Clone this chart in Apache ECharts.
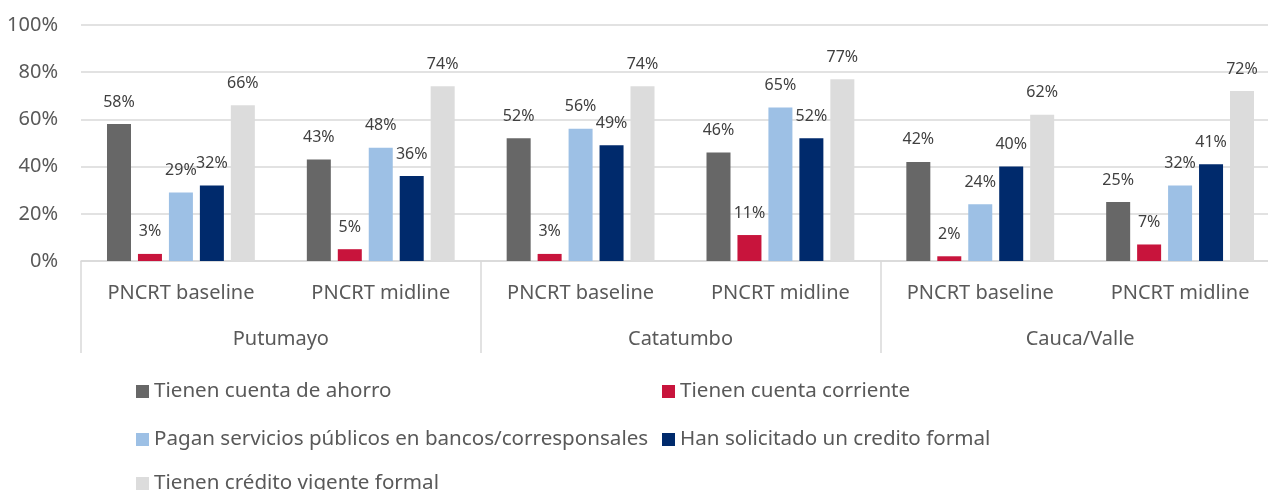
<!DOCTYPE html>
<html>
<head>
<meta charset="utf-8">
<script src="https://cdn.jsdelivr.net/npm/echarts@6/dist/echarts.min.js"></script>
<style>
  html, body { margin: 0; padding: 0; background: #ffffff; }
  #chart { width: 1268px; height: 490px; }
</style>
</head>
<body>
<div id="chart"></div>
<script>
// Survey rounds (inner axis) and regions (outer axis)
const rounds = ['PNCRT baseline', 'PNCRT midline', 'PNCRT baseline', 'PNCRT midline', 'PNCRT baseline', 'PNCRT midline'];
const regions = ['Putumayo', 'Catatumbo', 'Cauca/Valle'];

// Share of households (%) per indicator, one value per round/region
const cuentaAhorro    = [58, 43, 52, 46, 42, 25];
const cuentaCorriente = [3, 5, 3, 11, 2, 7];
const paganServicios  = [29, 48, 56, 65, 24, 32];
const solicitadoCred  = [32, 36, 49, 52, 40, 41];
const creditoVigente  = [66, 74, 74, 77, 62, 72];

const seriesNames = [
  'Tienen cuenta de ahorro',
  'Tienen cuenta corriente',
  'Pagan servicios públicos en bancos/corresponsales',
  'Han solicitado un credito formal',
  'Tienen crédito vigente formal'
];
const seriesValues = [cuentaAhorro, cuentaCorriente, paganServicios, solicitadoCred, creditoVigente];
const colors = ['#676767', '#C8143C', '#9DC0E5', '#002A6C', '#DCDCDC'];

const yTicks = { min: 0, max: 100, interval: 20 };

const FONT = 'Noto Sans';
const AXIS_FONT = 20;
const chart = echarts.init(document.getElementById('chart'), null, { renderer: 'canvas' });

// Legend laid out as a two-column grid: one legend block per entry
const legendSlots = [
  { left: 136, top: 381 }, // Tienen cuenta de ahorro
  { left: 662, top: 381 }, // Tienen cuenta corriente
  { left: 136, top: 429 }, // Pagan servicios ...
  { left: 662, top: 429 }, // Han solicitado ...
  { left: 136, top: 473 }  // Tienen crédito vigente formal
];
const legends = seriesNames.map((name, i) => ({
  left: legendSlots[i].left,
  top: legendSlots[i].top,
  padding: 0,
  itemWidth: 13,
  itemHeight: 13,
  icon: 'rect',
  selectedMode: false,
  textStyle: { fontFamily: FONT, fontSize: 20.6, color: '#595959', lineHeight: 20 },
  data: [name]
}));

const option = {
  animation: false,
  color: colors,
  textStyle: { fontFamily: FONT },
  // plot area runs slightly past the right edge of the canvas
  grid: {
    left: 81, width: 1199, top: 25, bottom: 229,
    containLabel: false,
    outerBoundsMode: 'none'
  },
  legend: legends,
  xAxis: [
    {
      type: 'category',
      data: rounds,
      position: 'bottom',
      axisLine: { show: true, lineStyle: { color: '#D9D9D9', width: 1.5 } },
      axisTick: { show: false },
      axisLabel: { margin: 22, fontFamily: FONT, fontSize: AXIS_FONT, color: '#595959', interval: 0 }
    },
    {
      type: 'category',
      data: regions,
      position: 'bottom',
      axisLine: { show: false },
      axisTick: { show: true, length: 92, interval: 0, lineStyle: { color: '#D9D9D9', width: 1.5 } },
      axisLabel: { margin: 68, fontFamily: FONT, fontSize: AXIS_FONT, color: '#595959', interval: 0 }
    }
  ],
  yAxis: {
    type: 'value',
    min: yTicks.min, max: yTicks.max, interval: yTicks.interval,
    axisLine: { show: false },
    axisTick: { show: false },
    splitLine: { lineStyle: { color: '#D9D9D9', width: 1.5 } },
    axisLabel: { formatter: '{value}%', margin: 23, fontFamily: FONT, fontSize: AXIS_FONT, color: '#595959' }
  },
  series: seriesNames.map((name, i) => ({
    name: name,
    type: 'bar',
    xAxisIndex: 0,
    data: seriesValues[i],
    barWidth: 24,
    barGap: '29%',
    itemStyle: { color: colors[i] },
    label: {
      show: true,
      position: 'top',
      distance: 14,
      formatter: '{c}%',
      fontFamily: FONT,
      fontSize: 16,
      color: '#404040'
    }
  }))
};

chart.setOption(option);
</script>
</body>
</html>
